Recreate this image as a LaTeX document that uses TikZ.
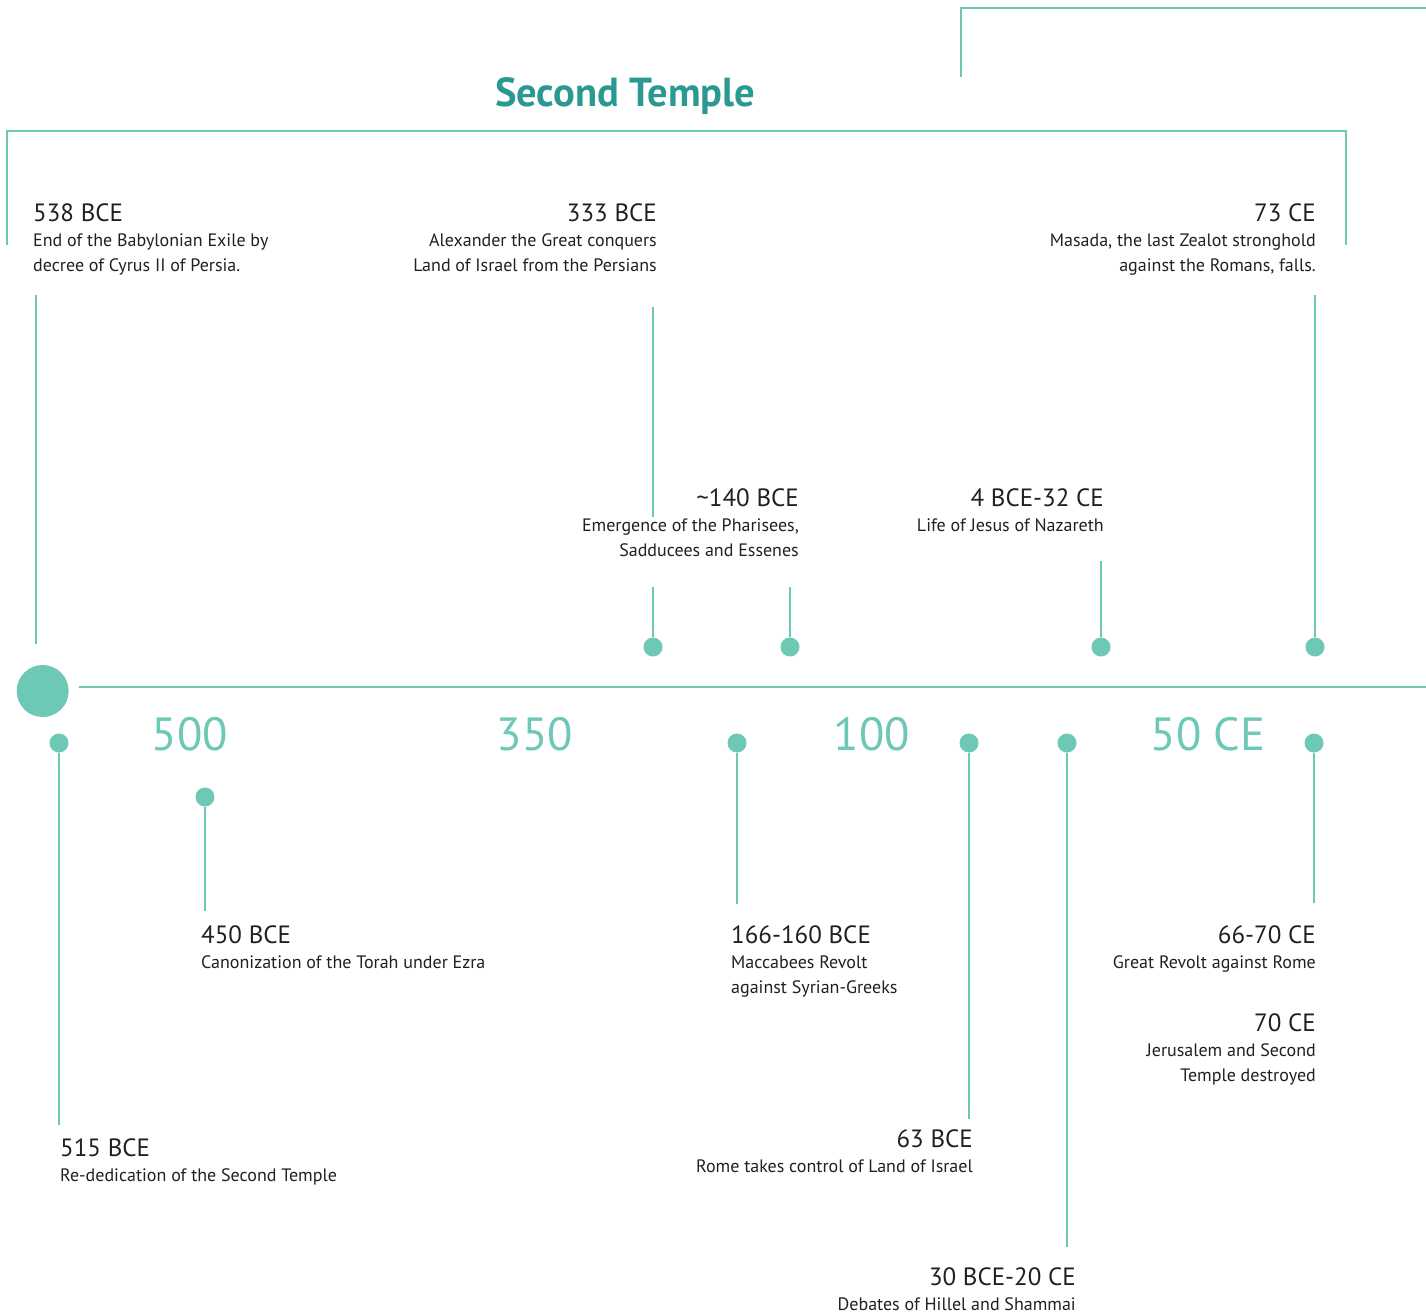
\documentclass[tikz,border=0pt]{standalone}
\usepackage{fontspec}
\setmainfont{PT Sans}
\usepackage{xcolor}
\usepackage{tikz}
\usetikzlibrary{positioning}

\definecolor{mint}{HTML}{6DC8B6}
\definecolor{templeteal}{HTML}{2A9992}
\definecolor{ink}{HTML}{231F20}

\begin{document}
\begin{tikzpicture}[
    x=1pt, y=-1pt,
    axisline/.style={draw=mint, line width=2.5pt},
    evdot/.style={circle, fill=mint, inner sep=0pt, minimum size=19pt},
    bigdot/.style={circle, fill=mint, inner sep=0pt, minimum size=52pt},
    yearlbl/.style={text=ink, inner sep=0pt, font=\fontsize{25}{30}\selectfont},
    notelbl/.style={text=ink, inner sep=0pt, font=\fontsize{18}{25}\selectfont},
    scalelbl/.style={text=mint, inner sep=0pt, font=\fontsize{46.5}{54}\selectfont},
    titlelbl/.style={text=templeteal, inner sep=0pt, font=\bfseries\fontsize{40.5}{46}\selectfont}
]
\useasboundingbox (0,0) rectangle (1426,1315);

% brackets and title
\draw[axisline] (961,77) -- (961,8) -- (1426,8);
\draw[axisline] (7,245) -- (7,131) -- (1346,131) -- (1346,245);
\node (title) [titlelbl, anchor=base] at (625,106) {Second Temple};

% axis
\node (start) [bigdot] at (42.7,691) {};
\coordinate (axisstart) at (79,687);
\coordinate (axisend) at (1426,687);
\draw[axisline] (axisstart) -- (axisend);

\node (s500) [scalelbl, anchor=base] at (190,750) {500};
\node (s350) [scalelbl, anchor=base] at (535,750) {350};
\node (s100) [scalelbl, anchor=base] at (872,750) {100};
\node (s50) [scalelbl, anchor=base] at (1208,750) {50 CE};

% dots
\node (d333) [evdot] at (653,647) {};
\node (d140) [evdot] at (790,647) {};
\node (d4) [evdot] at (1101,647) {};
\node (d73) [evdot] at (1315,647) {};
\node (d515) [evdot] at (59,743) {};
\node (d450) [evdot] at (205,797) {};
\node (d166) [evdot] at (737,743) {};
\node (d63) [evdot] at (969,743) {};
\node (d30) [evdot] at (1067,743) {};
\node (d66) [evdot] at (1314,743) {};

% events above the axis
\node (y538) [yearlbl, anchor=base west] at (33,221) {538 BCE};
\node (n538) [notelbl, below right=12.5pt and 0pt of y538.base west, align=left] {End of the Babylonian Exile by\\decree of Cyrus II of Persia.};
\node (y333) [yearlbl, anchor=base east] at (657,221) {333 BCE};
\node (n333) [notelbl, below left=12.5pt and 0pt of y333.base east, align=right] {Alexander the Great conquers\\Land of Israel from the Persians};
\node (y73) [yearlbl, anchor=base east] at (1316,221) {73 CE};
\node (n73) [notelbl, below left=12.5pt and 0pt of y73.base east, align=right] {Masada, the last Zealot stronghold\\against the Romans, falls.};
\node (y140) [yearlbl, anchor=base east] at (799,506) {\char"007E 140 BCE};
\node (n140) [notelbl, below left=12.5pt and 0pt of y140.base east, align=right] {Emergence of the Pharisees,\\Sadducees and Essenes};
\node (y4) [yearlbl, anchor=base east] at (1104,506) {4 BCE-32 CE};
\node (n4) [notelbl, below left=12.5pt and 0pt of y4.base east, align=right] {Life of Jesus of Nazareth};

% events below the axis
\node (y515) [yearlbl, anchor=base west] at (60,1156) {515 BCE};
\node (n515) [notelbl, below right=12.5pt and 0pt of y515.base west, align=left] {Re-dedication of the Second Temple};
\node (y450) [yearlbl, anchor=base west] at (201,943) {450 BCE};
\node (n450) [notelbl, below right=12.5pt and 0pt of y450.base west, align=left] {Canonization of the Torah under Ezra};
\node (y166) [yearlbl, anchor=base west] at (731,943) {166-160 BCE};
\node (n166) [notelbl, below right=12.5pt and 0pt of y166.base west, align=left] {Maccabees Revolt\\against Syrian-Greeks};
\node (y63) [yearlbl, anchor=base east] at (973,1147) {63 BCE};
\node (n63) [notelbl, below left=12.5pt and 0pt of y63.base east, align=right] {Rome takes control of Land of Israel};
\node (y30) [yearlbl, anchor=base east] at (1076,1285) {30 BCE-20 CE};
\node (n30) [notelbl, below left=12.5pt and 0pt of y30.base east, align=right] {Debates of Hillel and Shammai};
\node (y66) [yearlbl, anchor=base east] at (1316,943) {66-70 CE};
\node (n66) [notelbl, below left=12.5pt and 0pt of y66.base east, align=right] {Great Revolt against Rome};
\node (y70) [yearlbl, anchor=base east] at (1316,1031) {70 CE};
\node (n70) [notelbl, below left=12.5pt and 0pt of y70.base east, align=right] {Jerusalem and Second\\Temple destroyed};

% connectors
\coordinate (t538) at (36,295);
\coordinate (b538) at (36,644);
\draw[axisline] (t538) -- (b538);
\coordinate (t333) at (653,307);
\coordinate (m333) at (653,517);
\coordinate (k333) at (653,587);
\draw[axisline] (t333) -- (m333);
\draw[axisline] (k333) -- (d333);
\coordinate (t140) at (790,587);
\draw[axisline] (t140) -- (d140);
\coordinate (t4) at (1101,561);
\draw[axisline] (t4) -- (d4);
\coordinate (t73) at (1315,295);
\draw[axisline] (t73) -- (d73);
\coordinate (b515) at (59,1125);
\draw[axisline] (d515) -- (b515);
\coordinate (b450) at (205,911);
\draw[axisline] (d450) -- (b450);
\coordinate (b166) at (737,904);
\draw[axisline] (d166) -- (b166);
\coordinate (b63) at (969,1119);
\draw[axisline] (d63) -- (b63);
\coordinate (b30) at (1067,1247);
\draw[axisline] (d30) -- (b30);
\coordinate (b66) at (1314,903);
\draw[axisline] (d66) -- (b66);
\end{tikzpicture}
\end{document}
